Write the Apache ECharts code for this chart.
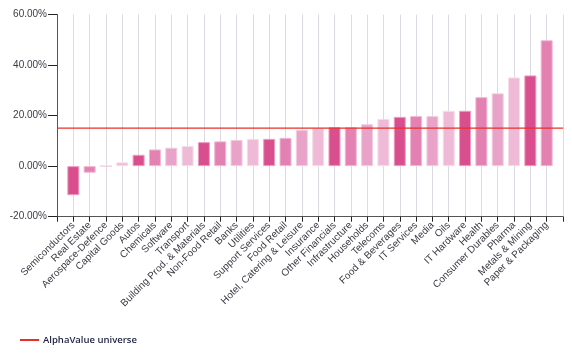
<!DOCTYPE html>
<html>
<head>
<meta charset="utf-8">
<style>html,body{margin:0;padding:0;background:#fff}#c{width:572px;height:355px}</style>
<script src="https://cdn.jsdelivr.net/npm/echarts@6/dist/echarts.min.js"></script>
</head>
<body>
<div id="c"></div>
<script>
const categories = ['Semiconductors','Real Estate','Aerospace-Defence','Capital Goods','Autos','Chemicals','Software','Transport','Building Prod. & Materials','Non-Food Retail','Banks','Utilities','Support Services','Food Retail','Hotel, Catering & Leisure','Insurance','Other Financials','Infrastructure','Households','Telecoms','Food & Beverages','IT Services','Media','Oils','IT Hardware','Health','Consumer Durables','Pharma','Metals & Mining','Paper & Packaging'];
const values = [-11.5,-2.6,0,1.5,4.5,6.6,7.3,8.0,9.5,9.8,10.4,10.8,10.8,11.2,14.4,15.0,15.4,15.4,16.6,18.7,19.5,19.8,19.8,21.9,21.9,27.3,28.8,35.1,35.9,49.8];
const universeName = 'AlphaValue universe';
const universeValue = 15.05;
const yTicks = {min:-20, max:60, interval:20};

const palette = ['#d94f8e','#e381b3','#e9a3c9','#efbad6'];
const borders = ['#ec9cc2','#f0b8d4','#f3cde1','#f7dcea'];

const cats = [''].concat(categories).concat(['']);
const barData = ['-'].concat(values.map((v,i)=>({value:v,itemStyle:{color:palette[i%4],borderColor:borders[i%4]}}))).concat(['-']);
const lineData = cats.map(()=>universeValue);

const chart = echarts.init(document.getElementById('c'), null, {renderer:'canvas'});
chart.setOption({
  animation:false,
  grid:{left:57,right:9,top:14.5,bottom:138.3,containLabel:false},
  legend:{
    data:[{name:universeName}],
    left:15, top:330, icon:'rect', itemWidth:19, itemHeight:2, itemGap:6, itemStyle:{},
    textStyle:{fontFamily:'Open Sans', fontSize:9.5, fontWeight:600, color:'#1c2140', padding:[0,0,0,-1]}
  },
  xAxis:{
    type:'category', data:cats, boundaryGap:false,
    axisLine:{show:true,onZero:false,lineStyle:{color:'#555',width:1}},
    axisTick:{show:true,alignWithLabel:true,length:5,lineStyle:{color:'#222'}},
    splitLine:{show:true,lineStyle:{color:'#dcdbe4',width:1}},
    axisLabel:{rotate:45,fontSize:10,color:'#3a3a44',fontFamily:'Liberation Sans',margin:7,interval:0}
  },
  yAxis:{
    type:'value', min:yTicks.min, max:yTicks.max, interval:yTicks.interval,
    axisLine:{show:true,lineStyle:{color:'#555'}},
    axisTick:{show:true,length:9,lineStyle:{color:'#222'}},
    splitLine:{show:false},
    axisLabel:{formatter:v=>v.toFixed(2)+'%',fontSize:10,color:'#3a3a44',fontFamily:'Liberation Sans',margin:10}
  },
  series:[
    {type:'bar',data:barData,barWidth:12,itemStyle:{borderWidth:1},z:2},
    {type:'line',name:universeName,data:lineData,symbol:'none',lineStyle:{color:'#e8302a',width:1.3},itemStyle:{color:'#e8302a'},z:3}
  ]
});
</script>
</body>
</html>
